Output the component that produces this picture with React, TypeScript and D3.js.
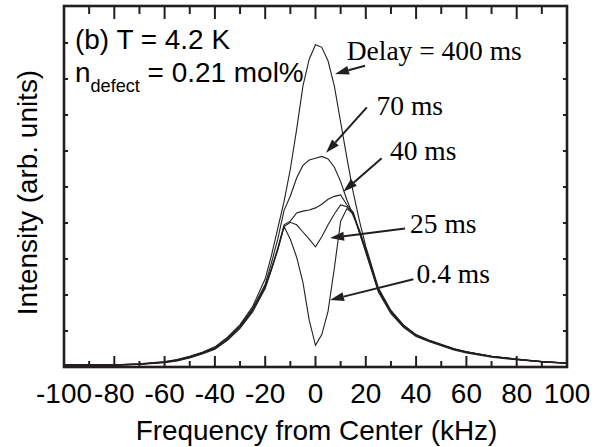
import React from "react";
import * as d3 from "d3";

const freq = [-100,-90,-80,-70,-60,-55,-50,-45,-40,-35,-30,-25,-20,-17.5,-15,-12.5,-10,-7.5,-5,-2.5,0,2.5,5,7.5,10,12.5,15,17.5,20,25,30,35,40,45,50,55,60,70,80,90,100];

const s04 = [0.04,0.05,0.05,0.07,0.12,0.17,0.25,0.36,0.49,0.74,1.07,1.53,2.18, 2.7,3.25,3.9,3.55,3.05,2.35,1.3,0.6,0.9,1.55,2.75,4.05,4.4,4.25,3.72, 3.18,2.08,1.48,1.1,0.85,0.71,0.59,0.47,0.39,0.27,0.2,0.14,0.1];
const s25 = [0.06,0.05,0.06,0.08,0.13,0.18,0.27,0.38,0.51,0.76,1.1,1.57,2.22, 2.72,3.27,3.9,4.02,3.95,3.75,3.55,3.34,3.62,3.95,4.25,4.5,4.45,4.27,3.74, 3.22,2.12,1.52,1.13,0.87,0.73,0.61,0.49,0.41,0.29,0.21,0.15,0.11];
const s40 = [0.07,0.06,0.05,0.08,0.13,0.19,0.28,0.39,0.52,0.78,1.12,1.6,2.25, 2.75,3.3,3.95,4.05,4.28,4.33,4.36,4.42,4.52,4.66,4.74,4.78,4.5,4.3,3.76, 3.24,2.14,1.53,1.14,0.88,0.74,0.62,0.5,0.42,0.3,0.21,0.15,0.11];
const s70 = [0.05,0.06,0.06,0.08,0.14,0.2,0.29,0.4,0.54,0.8,1.15,1.63,2.3, 2.9,3.55,4.35,4.75,5.25,5.6,5.75,5.8,5.85,5.78,5.55,5.15,4.64,4.2,3.8, 3.28,2.16,1.55,1.15,0.89,0.74,0.62,0.5,0.42,0.3,0.22,0.15,0.1];
const s400 = [0.06,0.06,0.06,0.09,0.15,0.21,0.3,0.41,0.56,0.83,1.18,1.68,2.45, 3.1,3.85,4.6,5.5,6.6,7.8,8.55,8.95,8.88,8.5,7.8,6.8,5.8,4.85,4.05, 3.35,2.2,1.57,1.17,0.9,0.75,0.63,0.51,0.42,0.3,0.22,0.15,0.11];

const seriesList = [s04, s25, s40, s70, s400];

const xTickValues = [-100,-80,-60,-40,-20,0,20,40,60,80,100];
const xTickLabels = ["-100","-80","-60","-40","-20","0","20","40","60","80","100"];
const xMinorTicks = [-90,-70,-50,-30,-10,10,30,50,70,90];
const yTickValues = [1,2,3,4,5,6,7,8,9];

const annLabels = ["Delay = 400 ms", "70 ms", "40 ms", "25 ms", "0.4 ms"];
// label anchor (kHz, intensity), arrow tail, arrow tip
const annText = [[12.4, 8.53],[24.3, 7.0],[29.6, 5.75],[37.6, 3.72],[40.2, 2.34]];
const annTail = [[19.7, 8.37],[20.4, 7.21],[26.3, 5.8],[35.6, 3.85],[38.9, 2.44]];
const annTip = [[7.75, 8.14],[4.2, 5.95],[11.05, 4.87],[5.77, 3.58],[5.77, 1.86]];

const W = 601, H = 447;
const L = 64, R = 567, T = 6, B = 367;
const INK = "#231f20";
const SANS = "'Liberation Sans', Arial, sans-serif";
const SERIF = "'Liberation Serif', 'Times New Roman', serif";
const SX = 1.035;

export default function App() {
  const x = d3.scaleLinear().domain([-100, 100]).range([L, R]);
  const y = d3.scaleLinear().domain([0, 10]).range([B, T + 1]);
  const line = d3.line<number>().x((_, i) => x(freq[i])).y((d) => y(d));

  const arrows = annTail.map((t, i) => {
    const x1 = x(t[0]), y1 = y(t[1]);
    const x2 = x(annTip[i][0]), y2 = y(annTip[i][1]);
    const dx = x2 - x1, dy = y2 - y1;
    const len = Math.hypot(dx, dy);
    const ux = dx / len, uy = dy / len;
    const hl = 14, hw = 4.5;
    const bx = x2 - ux * hl, by = y2 - uy * hl;
    const pts = [
      [x2, y2],
      [bx - uy * hw, by + ux * hw],
      [bx + uy * hw, by - ux * hw],
    ];
    return { x1, y1, bx, by, pts };
  });

  return (
    <svg width={W} height={H} style={{ position: "absolute", left: 0, top: 0, background: "#fff" }}>
      <rect x={0} y={0} width={W} height={H} fill="#fff" />
      {seriesList.map((s, i) => (
        <path key={i} d={line(s) || ""} fill="none" stroke={INK} strokeWidth={1.1} />
      ))}
      {xTickValues.map((v) => (
        <g key={"M" + v}>
          <line x1={x(v)} x2={x(v)} y1={B} y2={B - 11} stroke={INK} strokeWidth={2} />
          <line x1={x(v)} x2={x(v)} y1={T} y2={T + 13} stroke={INK} strokeWidth={2} />
        </g>
      ))}
      {xMinorTicks.map((v) => (
        <g key={"m" + v}>
          <line x1={x(v)} x2={x(v)} y1={B} y2={B - 6} stroke={INK} strokeWidth={2} />
          <line x1={x(v)} x2={x(v)} y1={T} y2={T + 8} stroke={INK} strokeWidth={2} />
        </g>
      ))}
      {yTickValues.map((v) => (
        <g key={"y" + v}>
          <line x1={L} x2={L + 4} y1={y(v)} y2={y(v)} stroke={INK} strokeWidth={2} />
          <line x1={R} x2={R - 4} y1={y(v)} y2={y(v)} stroke={INK} strokeWidth={2} />
        </g>
      ))}
      <rect x={L} y={T} width={R - L} height={B - T} fill="none" stroke={INK} strokeWidth={2.6} />
      {xTickValues.map((v, i) => (
        <text key={"t" + v} transform={`translate(${x(v)},403) scale(${SX},1)`} textAnchor="middle" fontFamily={SANS} fontSize={27} fill="#000">
          {xTickLabels[i]}
        </text>
      ))}
      <text transform={`translate(${(L + R) / 2 + 1},440) scale(${SX},1)`} textAnchor="middle" fontFamily={SANS} fontSize={27} fill="#000">
        Frequency from Center (kHz)
      </text>
      <text transform={`translate(37,${(T + B) / 2 + 6}) rotate(-90) scale(${SX},1)`} textAnchor="middle" fontFamily={SANS} fontSize={27} fill="#000">
        Intensity (arb. units)
      </text>
      <text transform={`translate(75,49) scale(${SX},1)`} fontFamily={SANS} fontSize={27} fill="#000">(b) T = 4.2 K</text>
      <text transform={`translate(75,82) scale(${SX},1)`} fontFamily={SANS} fontSize={27} fill="#000">
        n<tspan fontSize={17.5} dy={10}>defect</tspan><tspan dy={-10}> = 0.21 mol%</tspan>
      </text>
      {annLabels.map((lab, i) => (
        <text key={lab} x={x(annText[i][0])} y={y(annText[i][1])} fontFamily={SERIF} fontSize={27.5} fill="#000">
          {lab}
        </text>
      ))}
      {arrows.map((a, i) => (
        <g key={"a" + i}>
          <line x1={a.x1} y1={a.y1} x2={a.bx} y2={a.by} stroke={INK} strokeWidth={2} />
          <polygon points={a.pts.map((p) => p.join(",")).join(" ")} fill={INK} />
        </g>
      ))}
    </svg>
  );
}
